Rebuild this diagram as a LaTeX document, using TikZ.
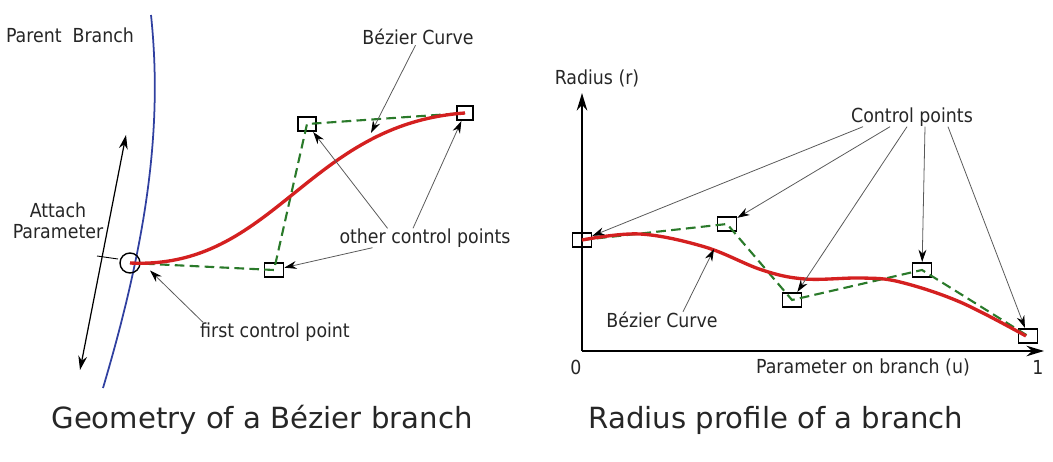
\documentclass[tikz,border=0pt]{standalone}
\usepackage{fontspec}
\setmainfont{DejaVu Sans}
\newfontfamily\condfont{DejaVu Sans Condensed}
\usetikzlibrary{arrows.meta}

\definecolor{branchblue}{HTML}{3040A0}
\definecolor{curvered}{HTML}{D42020}
\definecolor{polygreen}{HTML}{2A7A2A}

\tikzset{
  lbl/.style={font=\condfont\fontsize{11}{12}\selectfont, text=black!85, inner sep=0pt},
  caption/.style={font=\fontsize{16.6}{18}\selectfont, text=black!85, inner sep=0pt},
  ctrlbox/.style={draw, line width=0.9pt, minimum width=0.38cm, minimum height=0.29cm, inner sep=0pt},
  ptr/.style={draw=black!65, line width=0.45pt, -{Stealth[length=7pt, width=4.5pt, black]}},
  bezier/.style={curvered, line width=1.9pt},
  hull/.style={polygreen, line width=1.2pt, dash pattern=on 5.5pt off 3pt},
}

\begin{document}
\begin{tikzpicture}[x=0.02cm, y=-0.02cm]
  \useasboundingbox (0,0) rectangle (1053,462);

  % Draw the parent branch
  \draw[branchblue, line width=1pt] (151,15) .. controls (162,120) and (150,230) .. (103,388);

  % Draw the attach parameter arrow
  \draw[<->, >={Stealth[length=8pt, width=5pt]}, line width=0.7pt] (126,135) -- (80,370);
  \draw[line width=0.5pt] (97,256) -- (118,259);
  \node[lbl, align=center] (attachlbl) at (58,221) {Attach\\Parameter};
  \node[lbl] (parentlbl) at (70,35) {Parent\ \ Branch};

  % Control points of the branch
  \node[draw, circle, line width=0.8pt, minimum size=0.4cm, inner sep=0pt] (attach) at (130,263) {};
  \node[ctrlbox] (gcp1) at (274,270) {};
  \node[ctrlbox, minimum width=0.36cm] (gcp2) at (307,124) {};
  \node[ctrlbox, minimum width=0.32cm] (gcp3) at (465,113) {};

  % Draw the control polygon and the curve
  \draw[hull] (attach.center) -- (gcp1.center) -- (gcp2.center) -- (gcp3.center);
  \draw[bezier] (attach.center) .. controls (gcp1.center) and (gcp2.center) .. (gcp3.center);

  % Labels with their pointers
  \node[lbl] (geocurve) at (418,37) {Bézier Curve};
  \node[lbl] (otherlbl) at (425,238) {other control points};
  \node[lbl] (firstlbl) at (275,332) {first control point};
  \coordinate (oncurve) at (371,133);
  \draw[ptr] ([xshift=-0.05cm]geocurve.south) -- (oncurve);
  \draw[ptr] ([xshift=-0.75cm]otherlbl.north) -- (gcp2);
  \draw[ptr] ([xshift=-0.24cm]otherlbl.north) -- (gcp3);
  \draw[ptr] ([xshift=-1.05cm]otherlbl.south) -- (gcp1);
  \draw[ptr] ([xshift=-1.44cm]firstlbl.north) -- ([xshift=0.4cm, yshift=-0.15cm]attach.center);

  % Draw the axes of the radius profile
  \coordinate (origin) at (582,351);
  \draw[line width=1.1pt, -{Stealth[length=10pt, width=6pt]}] (origin) -- (582,93) coordinate (ytop);
  \draw[line width=1.1pt, -{Stealth[length=10pt, width=6pt]}] (origin) -- (1044,351) coordinate (xend);
  \node[lbl] (ylbl) at (597,78) {Radius (r)};
  \node[lbl] (zerolbl) at (576,367) {0};
  \node[lbl] (onelbl) at (1038,367) {1};
  \node[lbl] (xlbl) at (863,367) {Parameter on branch (u)};

  % Control points of the profile
  \node[ctrlbox] (rcp0) at (582,240) {};
  \node[ctrlbox] (rcp1) at (727,224) {};
  \node[ctrlbox] (rcp2) at (792,300) {};
  \node[ctrlbox] (rcp3) at (922,270) {};
  \node[ctrlbox] (rcp4) at (1028,336) {};

  % Draw the control polygon and the profile curve
  \draw[hull] (rcp0.center) -- (rcp1.center) -- (rcp2.center) -- (rcp3.center) -- (rcp4.center);
  \draw[bezier] plot[smooth, tension=0.6] coordinates {(582,240) (640,234) (705,247) (762,270) (805,279) (862,278) (900,282) (960,302) (1026,336)};

  % Labels with their pointers
  \node[lbl] (ctrllbl) at (912,117) {Control points};
  \node[lbl] (profcurve) at (662,320) {Bézier Curve};
  \draw[ptr] ([xshift=-0.98cm]ctrllbl.south) -- (rcp0);
  \draw[ptr] ([xshift=-0.44cm]ctrllbl.south) -- (rcp1);
  \draw[ptr] ([xshift=-0.1cm]ctrllbl.south) -- (rcp2);
  \draw[ptr] ([xshift=0.26cm]ctrllbl.south) -- (rcp3);
  \draw[ptr] ([xshift=0.72cm]ctrllbl.south) -- (rcp4);
  \coordinate (onprofile) at (714,249);
  \draw[ptr] ([xshift=0.42cm]profcurve.north) -- (onprofile);

  % Captions
  \node[caption] (leftcap) at (262,420) {Geometry of a Bézier branch};
  \node[caption] (rightcap) at (776,420) {Radius profile of a branch};
\end{tikzpicture}
\end{document}
